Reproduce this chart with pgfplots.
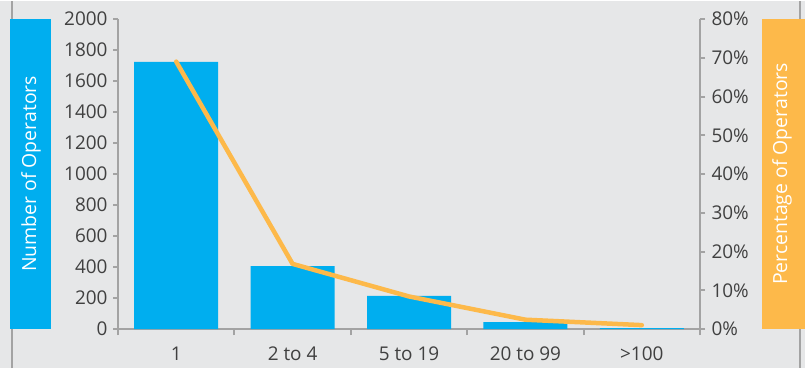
\documentclass[border=0pt]{standalone}
\usepackage{pgfplots}
\pgfplotsset{compat=1.18}
\usepackage{fontspec}
\setmainfont{Open Sans}
\definecolor{bg}{HTML}{E6E7E8}
\definecolor{barblue}{HTML}{00AEEF}
\definecolor{lineorange}{HTML}{FDB94A}
\definecolor{axgray}{HTML}{A3A3A3}
\definecolor{txt}{HTML}{404040}
\begin{document}
\begin{tikzpicture}[x=1bp,y=1bp]
\fill[bg] (0,0) rectangle (805,367);
\draw[axgray, line width=2bp] (12,0) -- (12,367);
\draw[axgray, line width=2bp] (800,0) -- (800,367);
\fill[barblue] (10,39) rectangle (51,349);
\fill[lineorange] (762,39) rectangle (805,349);
\node[rotate=90, text=white, font=\fontsize{19.5}{22}\selectfont] at (31,194) {Number of Operators};
\node[rotate=90, text=white, font=\fontsize{19.5}{22}\selectfont] at (782,194) {Percentage of Operators};
\begin{axis}[
  at={(118bp,39bp)}, anchor=south west,
  scale only axis, width=582bp, height=310bp,
  xmin=-0.5, xmax=4.5, ymin=0, ymax=2000,
  axis x line=bottom, axis y line=left,
  axis line style={-, draw=axgray, line width=2bp},
  xtick={0,1,2,3,4},
  xticklabels={1, 2 to 4, 5 to 19, 20 to 99, >100},
  minor xtick={-0.5,0.5,1.5,2.5,3.5,4.5},
  xtick style={draw=none},
  minor x tick style={draw=axgray, line width=2bp},
  minor tick length=6bp,
  ytick={0,200,...,2000},
  ytick style={draw=axgray, line width=2bp},
  major tick length=5bp,
  tick align=outside,
  /pgf/number format/assume math mode=true,
  /pgf/number format/1000 sep={},
  ticklabel style={font=\fontsize{19}{21}\selectfont, text=txt},
  xticklabel style={yshift=-9bp},
  yticklabel style={xshift=-2bp},
  clip=false,
]
\addplot[ybar, bar width=84bp, fill=barblue, draw=none] coordinates {(0,1723) (1,406) (2,213) (3,45) (4,5)};
\end{axis}
\begin{axis}[
  at={(118bp,39bp)}, anchor=south west,
  scale only axis, width=582bp, height=310bp,
  xmin=-0.5, xmax=4.5, ymin=0, ymax=80,
  axis x line=none, axis y line=right,
  axis line style={-, draw=axgray, line width=2bp},
  ytick={0,10,...,80},
  yticklabel={\pgfmathprintnumber{\tick}\%},
  ytick style={draw=axgray, line width=2bp},
  major tick length=5bp,
  tick align=outside,
  /pgf/number format/assume math mode=true,
  ticklabel style={font=\fontsize{19}{21}\selectfont, text=txt},
  yticklabel style={xshift=3bp},
  clip=false,
]
\addplot[lineorange, line width=4.5bp, line cap=round, line join=round] coordinates {(0,69) (1,16.8) (2,8.4) (3,2.4) (4,1)};
\end{axis}
\end{tikzpicture}
\end{document}
